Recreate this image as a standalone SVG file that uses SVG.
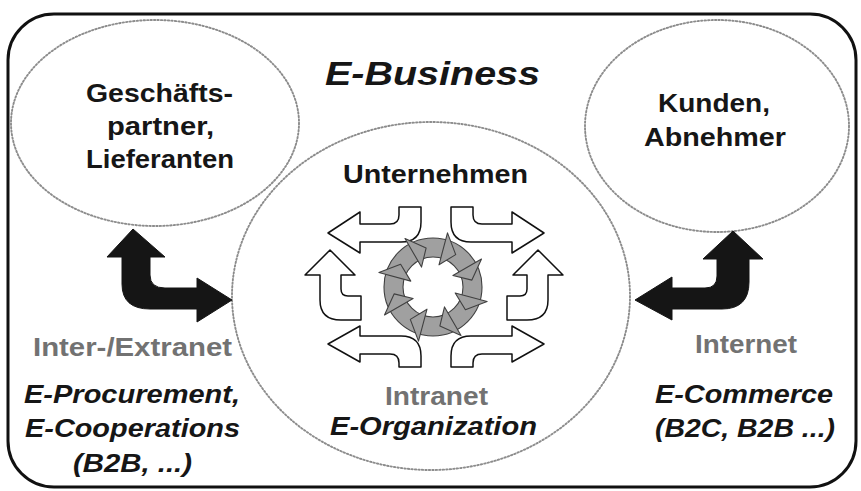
<svg xmlns="http://www.w3.org/2000/svg" width="861" height="491" viewBox="0 0 861 491">
<defs>
<style>
.dot{fill:none;stroke:#8c8c8c;stroke-width:1.9;stroke-dasharray:1.4 2.1;stroke-linecap:round}
.t{font-family:"Liberation Sans",Arial,sans-serif;font-weight:bold;font-size:25.5px;fill:#161616;text-anchor:middle}
.i{font-style:italic}
.g{fill:#727272}
.wa{fill:#fff;stroke:#111;stroke-width:1.5;stroke-linejoin:round}
.ba{fill:#151515;stroke:#151515;stroke-width:1;stroke-linejoin:round}
.rg{fill:#a0a0a0;stroke:#404040;stroke-width:1.1;stroke-linejoin:round}
</style>
</defs>
<rect width="861" height="491" fill="#fff"/>
<g id="frame">
<rect x="8" y="14" width="848" height="473" rx="46" ry="46" fill="none" stroke="#111" stroke-width="3"/>
<text class="t i" x="432.5" y="85" style="font-size:32.5px" textLength="215" lengthAdjust="spacingAndGlyphs">E-Business</text>
</g>
<g id="partner">
<ellipse class="dot" cx="155" cy="123" rx="144" ry="103"/>
<text class="t" x="159.5" y="102" textLength="147" lengthAdjust="spacingAndGlyphs">Geschäfts-</text>
<text class="t" x="160.5" y="135" textLength="107" lengthAdjust="spacingAndGlyphs">partner,</text>
<text class="t" x="160" y="168" textLength="148" lengthAdjust="spacingAndGlyphs">Lieferanten</text>
</g>
<g id="kunden">
<ellipse class="dot" cx="717" cy="126" rx="132" ry="106"/>
<text class="t" x="714" y="112" textLength="112" lengthAdjust="spacingAndGlyphs">Kunden,</text>
<text class="t" x="715" y="146" textLength="142" lengthAdjust="spacingAndGlyphs">Abnehmer</text>
</g>
<g id="unternehmen">
<ellipse class="dot" cx="431" cy="296" rx="199" ry="174"/>
<text class="t" x="435.5" y="183" textLength="185" lengthAdjust="spacingAndGlyphs">Unternehmen</text>
<path class="wa" d="M399,207 L421,207 L421,222 Q421,242 401,242 L360,242 L360,253 L328,233 L360,212 L360,224 L390,224 Q399,224 399,215 Z"/>
<path class="wa" d="M473,207 L451,207 L451,222 Q451,242 471,242 L512,242 L512,253 L544,233 L512,212 L512,224 L482,224 Q473,224 473,215 Z"/>
<path class="wa" d="M399,367 L421,367 L421,356 Q421,336 401,336 L360,336 L360,326 L328,344 L360,362 L360,354 L390,354 Q399,354 399,363 Z"/>
<path class="wa" d="M473,367 L451,367 L451,356 Q451,336 471,336 L512,336 L512,326 L544,344 L512,362 L512,354 L482,354 Q473,354 473,363 Z"/>
<path class="wa" d="M330,250 L355,275 L341,275 L341,289 Q341,296 348,296 L361,296 L361,320 L341,320 Q320,320 320,300 L320,275 L305,275 Z"/>
<path class="wa" d="M538,250 L513,275 L527,275 L527,289 Q527,296 520,296 L507,296 L507,320 L527,320 Q548,320 548,300 L548,275 L563,275 Z"/>
<path class="rg" fill-rule="evenodd" d="M482,287 A49,49 0 1 1 384,287 A49,49 0 1 1 482,287 Z M463,287 A30,30 0 1 0 403,287 A30,30 0 1 0 463,287 Z"/>
<path class="rg" d="M405,238.5 L426.1,248.1 L421.5,267.1 Z"/>
<path class="rg" d="M447.5,232.9 L455.7,254.6 L439,264.8 Z"/>
<path class="rg" d="M481.5,259 L471.9,280.1 L452.9,275.5 Z"/>
<path class="rg" d="M487.1,301.5 L465.4,309.7 L455.2,293 Z"/>
<path class="rg" d="M461,335.5 L439.9,325.9 L444.5,306.9 Z"/>
<path class="rg" d="M418.5,341.1 L410.3,319.4 L427,309.2 Z"/>
<path class="rg" d="M384.5,315 L394.1,293.9 L413.1,298.5 Z"/>
<path class="rg" d="M378.9,272.5 L400.6,264.3 L410.8,281.1 Z"/>
<text class="t g" x="436.5" y="405" textLength="103" lengthAdjust="spacingAndGlyphs">Intranet</text>
<text class="t i" x="433.5" y="435" textLength="207" lengthAdjust="spacingAndGlyphs">E-Organization</text>
</g>
<g id="connectors">
<path class="ba" d="M133,229 L107,257 L122,257 L122,284 Q122,309 150,309 L197,309 L197,322 L232,300 L197,278 L197,288 L165,288 Q150,288 150,275 L150,257 L165,257 Z"/>
<path class="ba" d="M733,231 L763,259 L749,259 L749,282 Q749,309 722,309 L672,309 L672,320 L635,300 L672,277 L672,288 L705,288 Q717,288 717,276 L717,259 L703,259 Z"/>
</g>
<g id="extranet">
<text class="t g" x="132.5" y="356" textLength="199" lengthAdjust="spacingAndGlyphs">Inter-/Extranet</text>
<text class="t i" x="132" y="403" textLength="216" lengthAdjust="spacingAndGlyphs">E-Procurement,</text>
<text class="t i" x="132.5" y="437" textLength="215" lengthAdjust="spacingAndGlyphs">E-Cooperations</text>
<text class="t i" x="132.5" y="472" textLength="119" lengthAdjust="spacingAndGlyphs">(B2B, ...)</text>
</g>
<g id="internet">
<text class="t g" x="746" y="353" textLength="102" lengthAdjust="spacingAndGlyphs">Internet</text>
<text class="t i" x="744" y="403" textLength="178" lengthAdjust="spacingAndGlyphs">E-Commerce</text>
<text class="t i" x="745" y="437" textLength="180" lengthAdjust="spacingAndGlyphs">(B2C, B2B ...)</text>
</g>
</svg>
